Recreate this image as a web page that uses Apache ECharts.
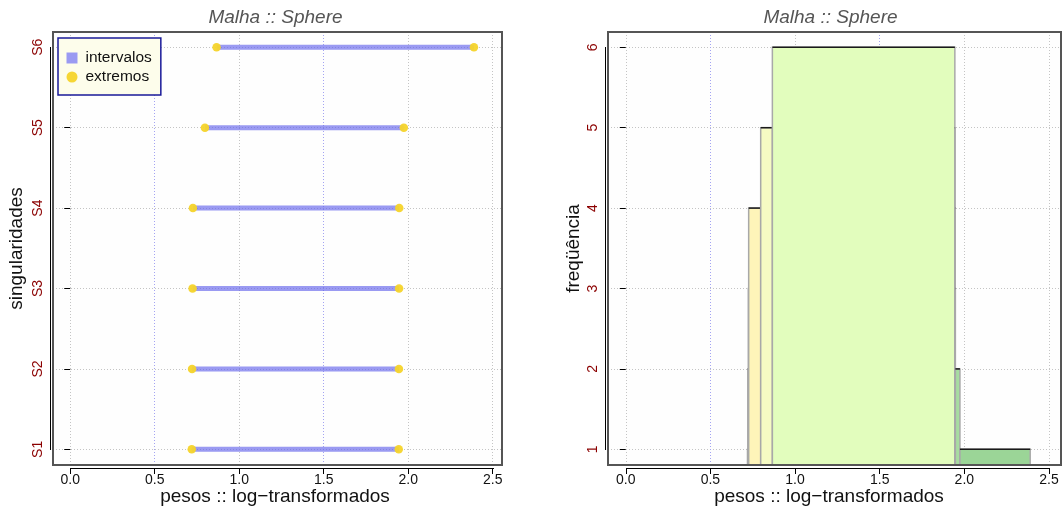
<!DOCTYPE html>
<html><head><meta charset="utf-8">
<script src="https://cdn.jsdelivr.net/npm/echarts@6/dist/echarts.min.js"></script>
<style>html,body{margin:0;padding:0;background:#fff}#c{width:1062px;height:511px}</style>
</head><body><div id="c"></div>
<script>
// ---- data ----
const titleText = 'Malha :: Sphere';
const xName = 'pesos :: log\u2212transformados';
const yNameLeft = 'singularidades';
const yNameRight = 'freqüência';
const legendNames = ['intervalos', 'extremos'];
const categories = ['S1', 'S2', 'S3', 'S4', 'S5', 'S6'];
const lowEnds  = [0.719, 0.721, 0.724, 0.726, 0.797, 0.866];
const highEnds = [1.944, 1.945, 1.946, 1.947, 1.974, 2.389];
const histEdges  = [0.719, 0.721, 0.724, 0.726, 0.797, 0.866, 1.944, 1.945, 1.946, 1.947, 1.974, 2.389];
const histCounts = [1, 2, 3, 4, 5, 6, 5, 4, 3, 2, 1];
const xTicks = [0, 0.5, 1, 1.5, 2, 2.5];
const yTicks = [1, 2, 3, 4, 5, 6];

// ---- styles ----
const FONT = 'Liberation Sans, Arial, sans-serif';
const segColor = 'rgba(100,100,235,0.65)';
const dotColor = '#f6d42a';
const labelRed = '#8b0000';
const histPalette = ['#9bd597', '#a7dca0', '#fbeeb4', '#fef4b9', '#f6fbc3', '#e2fdbd'];
const gridGray = '#c4c4c4', gridBlue = '#a4a4f2';
const vColors = [gridGray, gridBlue, gridGray, gridBlue, gridGray, gridGray];

const chart = echarts.init(document.getElementById('c'), null, {renderer: 'canvas'});

function xAxisCfg(idx, min, max, namePadRight) {
  return {
    type: 'value', gridIndex: idx, min: min, max: max, offset: 3,
    name: xName, nameLocation: 'middle', nameGap: 19, nameMoveOverlap: false,
    nameTextStyle: {fontSize: 19, color: '#111', fontFamily: FONT, padding: [0, namePadRight, 0, 0]},
    axisLine: {show: false},
    axisTick: {show: true, length: 6, inside: false, customValues: xTicks, lineStyle: {color: '#000', width: 1}},
    axisLabel: {customValues: xTicks, margin: 5, fontSize: 14, color: '#111', fontFamily: FONT,
      formatter: v => Number(v).toFixed(1)},
    splitLine: {show: true, lineStyle: {color: vColors, width: 1, type: [1, 2]}}
  };
}
function yAxisCfg(idx, name, gap, fmt) {
  return {
    type: 'value', gridIndex: idx, min: 0.805, max: 6.19, offset: 3,
    name: name, nameLocation: 'middle', nameGap: gap, nameRotate: 90, nameMoveOverlap: false,
    nameTextStyle: {fontSize: 19, color: '#111', fontFamily: FONT},
    axisLine: {show: false},
    axisTick: {show: true, length: 6, customValues: yTicks, lineStyle: {color: '#000', width: 1}},
    axisLabel: {customValues: yTicks, rotate: 90, margin: 5, fontSize: 14, color: labelRed, fontFamily: FONT,
      formatter: fmt},
    splitLine: {show: true, lineStyle: {color: gridGray, width: 1, type: [1, 2]}}
  };
}

const px = v => Math.round(v) + 0.5;
function axisLinesRender(params, api) {
  const cs = params.coordSys;
  const xa = api.coord([xTicks[0], yTicks[0]]);
  const xb = api.coord([xTicks[xTicks.length - 1], yTicks[yTicks.length - 1]]);
  const by = px(cs.y + cs.height + 3);
  const lx = px(cs.x - 3);
  return {type: 'group', children: [
    {type: 'rect', shape: {x: cs.x, y: cs.y, width: cs.width, height: cs.height},
      style: {fill: null, stroke: '#555', lineWidth: 2}},
    {type: 'line', shape: {x1: px(xa[0]) - 0.5, y1: by, x2: px(xb[0]) + 0.5, y2: by}, style: {stroke: '#000', lineWidth: 1}},
    {type: 'line', shape: {x1: lx, y1: px(xa[1]) + 0.5, x2: lx, y2: px(xb[1]) - 0.5}, style: {stroke: '#000', lineWidth: 1}}
  ]};
}

const segData = categories.map((c, i) => [lowEnds[i], highEnds[i], i + 1]);
const dotData = [];
categories.forEach((c, i) => { dotData.push([lowEnds[i], i + 1]); dotData.push([highEnds[i], i + 1]); });
const histData = histCounts.map((c, i) => [histEdges[i], histEdges[i + 1], c]);

const option = {
  animation: false,
  backgroundColor: '#ffffff',
  textStyle: {fontFamily: FONT},
  title: [
    {text: titleText, left: 275.5, top: 8, textAlign: 'center', padding: 0,
      textStyle: {fontSize: 19, fontStyle: 'italic', fontWeight: 'normal', color: '#555', fontFamily: FONT}},
    {text: titleText, left: 830.5, top: 8, textAlign: 'center', padding: 0,
      textStyle: {fontSize: 19, fontStyle: 'italic', fontWeight: 'normal', color: '#555', fontFamily: FONT}}
  ],
  legend: {
    data: [{name: legendNames[0], icon: 'rect'}, {name: legendNames[1], icon: 'circle'}],
    orient: 'vertical', left: 58, top: 38, itemWidth: 11, itemHeight: 11, itemGap: 2,
    padding: [11.5, 9, 9.5, 8.5],
    backgroundColor: '#fdfdeb', borderColor: '#1a1a99', borderWidth: 1.5, borderRadius: 0,
    textStyle: {fontSize: 15.5, lineHeight: 17, color: '#111', fontFamily: FONT, padding: [0, 0, 0, 3]},
    selectedMode: false
  },
  grid: [
    {left: 53, top: 32, width: 449, height: 433, show: true, borderWidth: 0,
      backgroundColor: '#fefefe', containLabel: false, outerBoundsMode: 'none'},
    {left: 608, top: 32, width: 453, height: 433, show: true, borderWidth: 0,
      backgroundColor: '#fefefe', containLabel: false, outerBoundsMode: 'none'}
  ],
  xAxis: [xAxisCfg(0, -0.102, 2.555, 5), xAxisCfg(1, -0.105, 2.571, 11)],
  yAxis: [
    yAxisCfg(0, yNameLeft, 24, v => categories[Math.round(v) - 1]),
    yAxisCfg(1, yNameRight, 22, v => String(Math.round(v)))
  ],
  series: [
    {
      name: legendNames[0], type: 'custom', xAxisIndex: 0, yAxisIndex: 0,
      itemStyle: {color: '#9a9af2'},
      encode: {x: [0, 1], y: 2},
      data: segData, z: 3,
      renderItem: (params, api) => {
        const p0 = api.coord([api.value(0), api.value(2)]);
        const p1 = api.coord([api.value(1), api.value(2)]);
        return {type: 'line', shape: {x1: p0[0], y1: p0[1], x2: p1[0], y2: p1[1]},
          style: {stroke: segColor, lineWidth: 5, lineCap: 'butt'}};
      }
    },
    {
      name: legendNames[1], type: 'scatter', xAxisIndex: 0, yAxisIndex: 0,
      symbol: 'circle', symbolSize: 8.5, itemStyle: {color: dotColor, opacity: 0.95},
      data: dotData, z: 4
    },
    {
      name: 'hist', type: 'custom', xAxisIndex: 1, yAxisIndex: 1,
      encode: {x: [0, 1], y: 2}, data: histData, z: 3,
      renderItem: (params, api) => {
        const cs = params.coordSys;
        const c = api.value(2);
        const p0 = api.coord([api.value(0), c]);
        const p1 = api.coord([api.value(1), 0]);
        const rect = echarts.graphic.clipRectByRect(
          {x: p0[0], y: p0[1], width: p1[0] - p0[0], height: p1[1] - p0[1]},
          {x: cs.x, y: cs.y, width: cs.width, height: cs.height});
        if (!rect) return null;
        return {type: 'group', children: [
          {type: 'rect', shape: rect, style: {fill: histPalette[c - 1], stroke: '#a8a8a8', lineWidth: 1.5}},
          {type: 'line', shape: {x1: p0[0], y1: p0[1], x2: p1[0], y2: p0[1]}, style: {stroke: '#1a1a1a', lineWidth: 1.5}}
        ]};
      }
    },
    {
      name: 'axes0', type: 'custom', xAxisIndex: 0, yAxisIndex: 0, data: [[1, 1]], clip: false, z: 5,
      renderItem: axisLinesRender, silent: true
    },
    {
      name: 'axes1', type: 'custom', xAxisIndex: 1, yAxisIndex: 1, data: [[1, 1]], clip: false, z: 5,
      renderItem: axisLinesRender, silent: true
    }
  ]
};
chart.setOption(option);
</script></body></html>
